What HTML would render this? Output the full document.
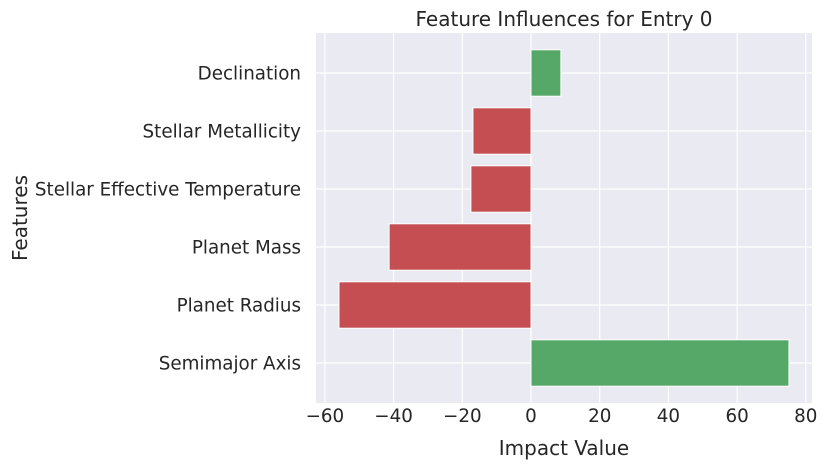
<!DOCTYPE html>
<html><head><meta charset="utf-8"><style>
body{margin:0;background:#fff;}
svg text{font-family:"DejaVu Sans","Liberation Sans",sans-serif;fill:#262626;}
</style></head><body>
<svg width="826" height="468" xmlns="http://www.w3.org/2000/svg">
<rect x="316" y="33" width="496" height="370" fill="#eaeaf2"/>
<g id="grid"></g><g id="bars"></g><g id="axes"></g>
<text x="564" y="26" font-size="20" text-anchor="middle">Feature Influences for Entry 0</text>
<text x="564" y="455" font-size="20" text-anchor="middle">Impact Value</text>
<text x="27" y="218" font-size="20" text-anchor="middle" transform="rotate(-90 27 218)">Features</text>
</svg>
<script>
const categories=["Semimajor Axis","Planet Radius","Planet Mass","Stellar Effective Temperature","Stellar Metallicity","Declination"];
const values=[75.1,-55.9,-41.3,-17.5,-16.9,8.7];
const xTicks=[-60,-40,-20,0,20,40,60,80];
const xTickLabels=["\u221260","\u221240","\u221220","0","20","40","60","80"];
const ns="http://www.w3.org/2000/svg";
const x=v=>531+v*3.435;
const y=i=>363-i*58;
function mk(t,a,p){const e=document.createElementNS(ns,t);for(const k in a)e.setAttribute(k,a[k]);p.appendChild(e);return e;}
const G=document.getElementById('grid'),B=document.getElementById('bars'),A=document.getElementById('axes');
xTicks.forEach((t,i)=>{
 const l=mk('line',{x1:x(t),x2:x(t),y1:33,y2:403,stroke:'#fff','stroke-width':1.2},G);
 
 
 const tx=mk('text',{x:x(t),y:422,'font-size':18.3,'text-anchor':'middle'},A);
 tx.textContent=xTickLabels[i];
 
 
});
categories.forEach((c,i)=>{
 const l=mk('line',{x1:316,x2:812,y1:y(i),y2:y(i),stroke:'#fff','stroke-width':1.2},G);
 
 
 const v=values[i];
 const r=mk('rect',{x:Math.min(x(0),x(v)),y:y(i)-23.2,width:Math.abs(x(v)-x(0)),height:46.4,fill:v>=0?'#55a868':'#c44e52',stroke:'#fff','stroke-width':1},B);
 
 
 const tx=mk('text',{x:301,y:y(i)+6.5,'font-size':18.3,'text-anchor':'end'},A);
 tx.textContent=c;
 
 
});
</script>
</body></html>
